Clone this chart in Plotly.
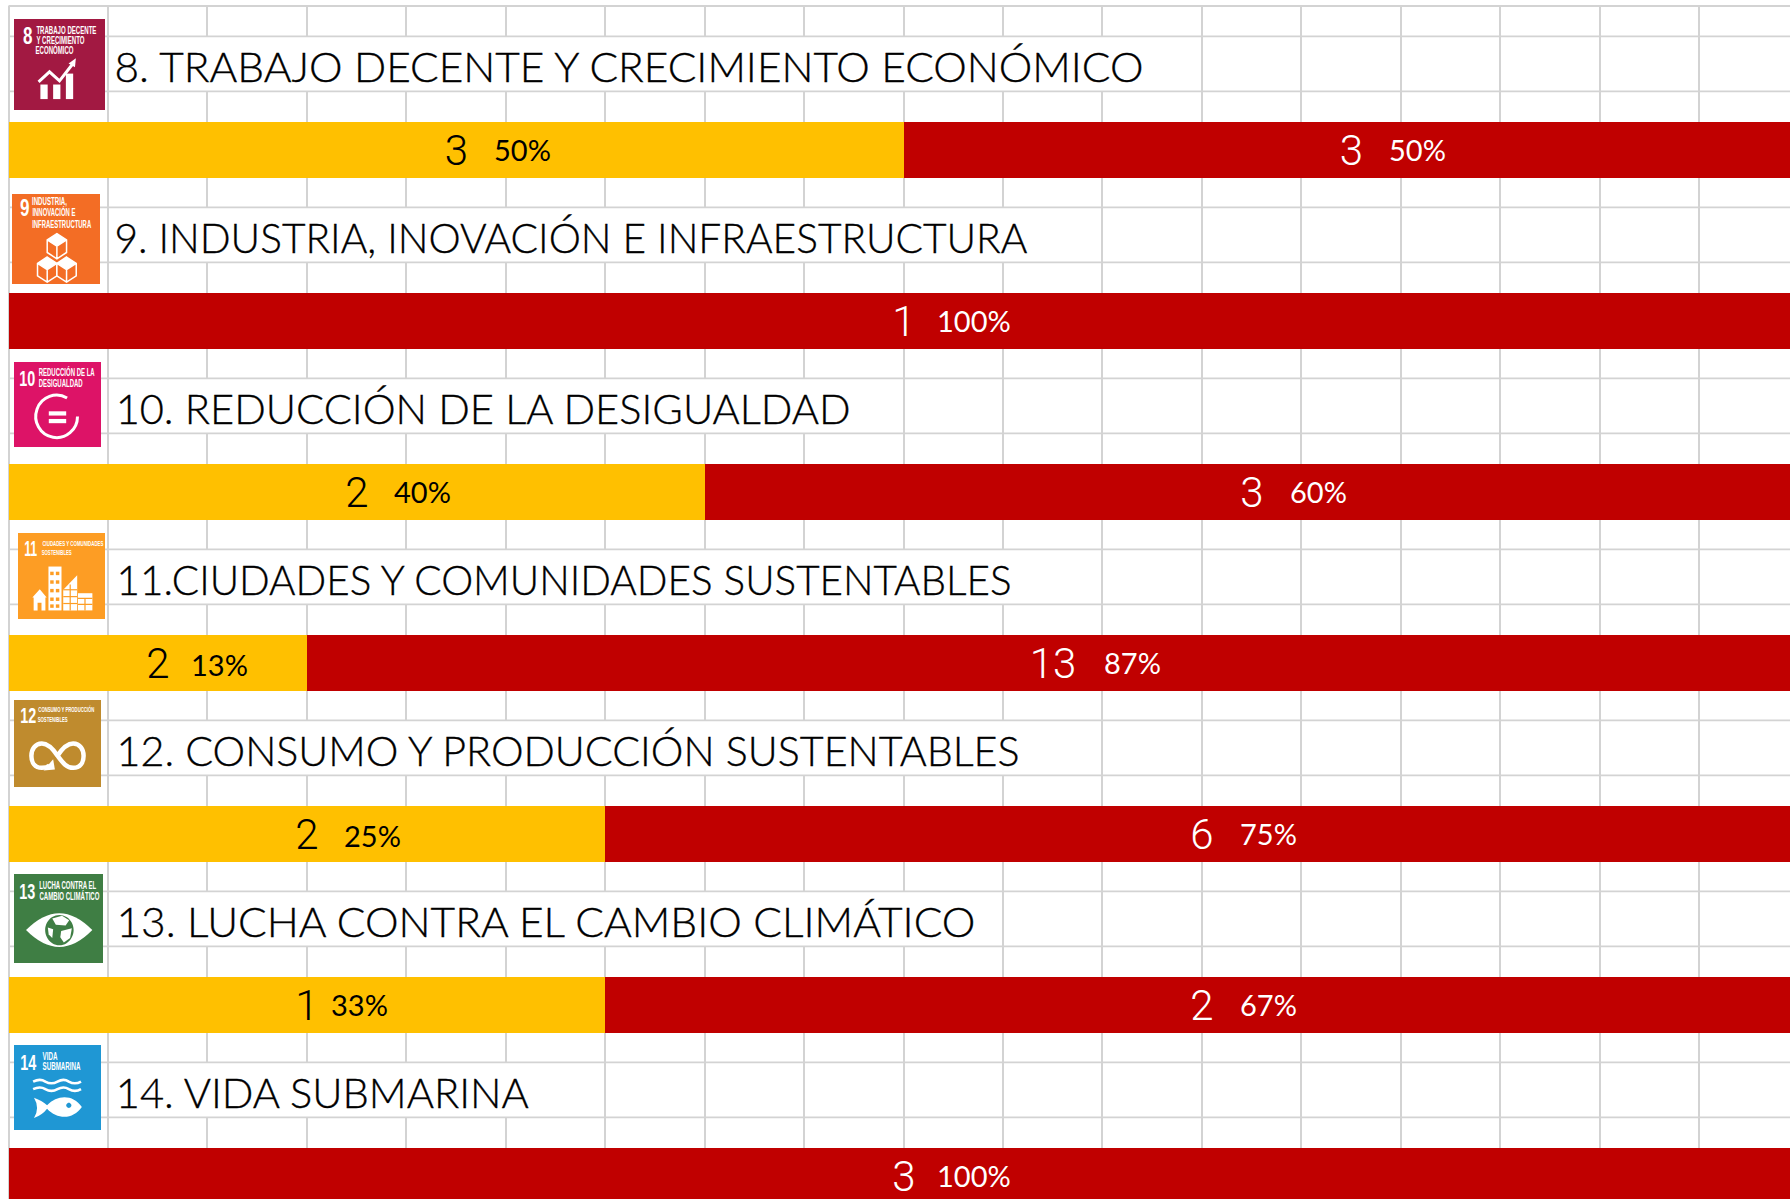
import json
import math
import plotly.graph_objects as go

W, H = 1790, 1199

# ---- data ----
categories = ["8", "9", "10", "11", "12", "13", "14"]
titles = [
    "8. TRABAJO DECENTE Y CRECIMIENTO ECONÓMICO",
    "9. INDUSTRIA, INOVACIÓN E INFRAESTRUCTURA",
    "10. REDUCCIÓN DE LA DESIGUALDAD",
    "11.CIUDADES Y COMUNIDADES SUSTENTABLES",
    "12. CONSUMO Y PRODUCCIÓN SUSTENTABLES",
    "13. LUCHA CONTRA EL CAMBIO CLIMÁTICO",
    "14. VIDA SUBMARINA",
]
yellow_count = [3, 0, 2, 2, 2, 1, 0]
red_count = [3, 1, 3, 13, 6, 2, 3]
yellow_pct = [50, None, 40, 13, 25, 33, None]
red_pct = [50, 100, 60, 87, 75, 67, 100]
# drawn width of the yellow segment (the bars in the picture follow sheet cells)
yellow_width = [50, 0, 38.9, 16.7, 33.3, 33.3, 0]
red_width = [100 - v for v in yellow_width]

# ---- styling / layout ----
YELLOW, RED = "#FFC000", "#C00000"
GRID = "#D3D3D3"
GW = 1.8
FONT_THIN = "Lato Light, Lato, sans-serif"
FONT_COUNT = "Roboto, sans-serif"
FONT_PCT = "Lato, sans-serif"
FONT_ICON = "Liberation Sans, sans-serif"
CELLS = 18
cell = 100 / CELLS
merge_end = [12, 11, 9, 11, 11, 10, 6]
title_left = [114, 114, 116, 116, 116, 116, 116]
title_width = [1029, 913, 735, 895, 903, 859, 413]
gap_yellow = [36, 0, 35, 31, 35, 22, 0]
gap_red = [36, 31, 36, 49, 36, 36, 31]
pct_shift_yellow = [0, 0, 0, -2, -2, 0, 0]

PITCH, C0 = 171.0, 149.6
PX_L, PX_SCALE = 8.5, 17.9
xrange_ = [(0 - PX_L) / PX_SCALE, (W - PX_L) / PX_SCALE]
yrange_ = [(H - C0) / PITCH, (6 - C0) / PITCH]
squeeze = {}


def px(x, y):
    return x / W, 1 - y / H


count_font = dict(family=FONT_COUNT, size=42, weight=300)
fig = go.Figure()
fig.add_bar(
    y=categories, x=yellow_width, orientation="h", marker=dict(color=YELLOW, line_width=0),
    text=[str(v) if v else "" for v in yellow_count], textposition="inside",
    insidetextanchor="middle", textangle=0, constraintext="none",
    textfont=dict(color="black", **count_font), width=56 / PITCH, showlegend=False,
)
fig.add_bar(
    y=categories, x=red_width, orientation="h", marker=dict(color=RED, line_width=0),
    text=[str(v) for v in red_count], textposition="inside",
    insidetextanchor="middle", textangle=0, constraintext="none",
    textfont=dict(color="white", **count_font), width=56 / PITCH, showlegend=False,
)

shapes = []
annotations = []

# sheet grid: horizontal rules, merged title cells
shapes.append(dict(type="line", xref="paper", yref="paper", x0=PX_L / W, x1=1, y0=1 - 6 / H, y1=1 - 6 / H,
                   line=dict(color=GRID, width=GW), layer="between"))
for i, end in enumerate(merge_end):
    y0 = i - 113.3 / PITCH
    y1 = i - 58.3 / PITCH
    shapes.append(dict(type="rect", xref="x", yref="y", x0=cell + 0.08, x1=end * cell - 0.08, y0=y0, y1=y1,
                       fillcolor="white", line_width=0, layer="between"))
    for yy in (y0, y1):
        shapes.append(dict(type="line", xref="x", yref="y", x0=0, x1=100, y0=yy, y1=yy,
                           line=dict(color=GRID, width=GW), layer="between"))

# row titles and percentage labels
for i, c in enumerate(categories):
    squeeze[titles[i]] = title_width[i]
    annotations.append(dict(xref="paper", yref="y", x=(title_left[i] + title_width[i] / 2) / W, y=i, yshift=84,
                            text=titles[i], xanchor="center", yanchor="middle", showarrow=False,
                            font=dict(family=FONT_THIN, size=42, color="black")))
    if yellow_pct[i] is not None:
        annotations.append(dict(xref="x", yref="y", x=yellow_width[i] / 2, y=i, xshift=gap_yellow[i],
                                yshift=pct_shift_yellow[i],
                                text=f"{yellow_pct[i]}%", xanchor="left", yanchor="middle", showarrow=False,
                                font=dict(family=FONT_PCT, size=29, color="black")))
    annotations.append(dict(xref="x", yref="y", x=yellow_width[i] + red_width[i] / 2, y=i, xshift=gap_red[i],
                            text=f"{red_pct[i]}%", xanchor="left", yanchor="middle", showarrow=False,
                            font=dict(family=FONT_PCT, size=29, color="white")))


# ---- SDG icons: square, number, caption, white pictogram ----
def path_in(box, pts_cmd):
    x0, y0, x1, y1 = box
    out = []
    for tok in pts_cmd:
        if isinstance(tok, str):
            out.append(tok)
        else:
            u, v = tok
            a, b = px(x0 + u * (x1 - x0), y0 + v * (y1 - y0))
            out.append(f"{a:.5f},{b:.5f}")
    return " ".join(out)


def glyph(box, cmd, fill="white", stroke=None, width=0):
    shapes.append(dict(type="path", xref="paper", yref="paper", path=path_in(box, cmd),
                       fillcolor=fill if fill else "rgba(0,0,0,0)",
                       line=dict(color=stroke if stroke else "rgba(0,0,0,0)", width=width), layer="above"))


def arc(cu, cv, ru, rv, a0, a1, segs=6):
    """Cubic approximation of an elliptical arc, angles in degrees."""
    cmd = ["M", (cu + ru * math.cos(math.radians(a0)), cv + rv * math.sin(math.radians(a0)))]
    step = math.radians(a1 - a0) / segs
    k = 4 / 3 * math.tan(step / 4)
    t = math.radians(a0)
    for _ in range(segs):
        t2 = t + step
        cmd += ["C", (cu + ru * (math.cos(t) - k * math.sin(t)), cv + rv * (math.sin(t) + k * math.cos(t))),
                (cu + ru * (math.cos(t2) + k * math.sin(t2)), cv + rv * (math.sin(t2) - k * math.cos(t2))),
                (cu + ru * math.cos(t2), cv + rv * math.sin(t2))]
        t = t2
    return cmd


def label(x, y, text, size, width, anchor_left=True):
    squeeze[text] = width
    cx = x + width / 2 if anchor_left else x
    a, b = px(cx, y)
    annotations.append(dict(xref="paper", yref="paper", x=a, y=b, text=text,
                            xanchor="center", yanchor="middle", showarrow=False,
                            font=dict(family=FONT_ICON, size=size, color="white", weight=700)))


icons = [
    dict(box=(14, 19, 105, 110), color="#A21942", num=(27, 35), numsize=24, numw=9.5, tx=36,
         lines=[("TRABAJO DECENTE", 30, 60), ("Y CRECIMIENTO", 40, 48), ("ECONÓMICO", 50, 38)], ts=11),
    dict(box=(12, 194, 100, 284), color="#F36D25", num=(24, 207), numsize=24, numw=9.5, tx=32,
         lines=[("INDUSTRIA,", 201, 35), ("INNOVACIÓN E", 212, 43), ("INFRAESTRUCTURA", 224, 59)], ts=11),
    dict(box=(14, 362, 101, 447), color="#DD1367", num=(27, 378), numsize=22, numw=16, tx=38.5,
         lines=[("REDUCCIÓN DE LA", 372, 56), ("DESIGUALDAD", 383, 44)], ts=10),
    dict(box=(18, 533, 105, 619), color="#FD9D24", num=(30, 549), numsize=22, numw=13, tx=42,
         lines=[("CIUDADES Y COMUNIDADES", 543, 61), ("SOSTENIBLES", 552, 30)], ts=7),
    dict(box=(14, 700, 101, 787), color="#BF8B2E", num=(28, 716), numsize=22, numw=16, tx=38,
         lines=[("CONSUMO Y PRODUCCIÓN", 709, 56), ("SOSTENIBLES", 719, 30)], ts=7),
    dict(box=(14, 874, 103, 963), color="#3F7E44", num=(27, 891), numsize=22, numw=16, tx=39,
         lines=[("LUCHA CONTRA EL", 885, 57), ("CAMBIO CLIMÁTICO", 896, 60)], ts=10),
    dict(box=(14, 1045, 101, 1130), color="#1F97D4", num=(28, 1062), numsize=22, numw=16, tx=42,
         lines=[("VIDA", 1056, 15), ("SUBMARINA", 1066, 38)], ts=10),
]

for c, ic in zip(categories, icons):
    x0, y0, x1, y1 = ic["box"]
    a0, b0 = px(x0, y1)
    a1, b1 = px(x1, y0)
    shapes.append(dict(type="rect", xref="paper", yref="paper", x0=a0, x1=a1, y0=b0, y1=b1,
                       fillcolor=ic["color"], line_width=0, layer="above"))
    label(ic["num"][0], ic["num"][1], c, ic["numsize"], ic["numw"], anchor_left=False)
    for t, yy, w in ic["lines"]:
        label(ic["tx"], yy, t, ic["ts"], w)

# 8: rising bars and arrow
b = icons[0]["box"]
for u0, u1, vt in [(0.29, 0.37, 0.72), (0.43, 0.51, 0.72), (0.57, 0.65, 0.60)]:
    glyph(b, ["M", (u0, vt), "L", (u1, vt), "L", (u1, 0.88), "L", (u0, 0.88), "Z"])
glyph(b, ["M", (0.27, 0.69), "L", (0.39, 0.58), "L", (0.50, 0.68), "L", (0.64, 0.50)], fill=None, stroke="white", width=3)
glyph(b, ["M", (0.60, 0.49), "L", (0.68, 0.43), "L", (0.67, 0.53), "Z"])

# 9: three cubes
b = icons[1]["box"]
for n, (cu, cv) in enumerate([(0.40, 0.84), (0.62, 0.84), (0.51, 0.58)]):
    r, h = 0.11, 0.07
    glyph(b, ["M", (cu, cv - 2 * h), "L", (cu + r, cv - h), "L", (cu + r, cv + h), "L", (cu, cv + 2 * h),
              "L", (cu - r, cv + h), "L", (cu - r, cv - h), "Z",
              "M", (cu - r, cv - h), "L", (cu, cv), "L", (cu + r, cv - h), "M", (cu, cv), "L", (cu, cv + 2 * h)],
          fill=icons[1]["color"], stroke="white", width=1.5)
    glyph(b, ["M", (cu, cv - 2 * h), "L", (cu + r, cv - h), "L", (cu, cv), "L", (cu - r, cv - h), "Z"])

# 10: ring with equals sign
b = icons[2]["box"]
glyph(b, arc(0.49, 0.64, 0.24, 0.25, -60, -360), fill=None, stroke="white", width=3)
for v0 in (0.58, 0.67):
    glyph(b, ["M", (0.40, v0), "L", (0.60, v0), "L", (0.60, v0 + 0.05), "L", (0.40, v0 + 0.05), "Z"])

# 11: house and buildings
b = icons[3]["box"]
glyph(b, ["M", (0.18, 0.90), "L", (0.18, 0.75), "L", (0.165, 0.75), "L", (0.25, 0.655), "L", (0.33, 0.75), "L", (0.315, 0.75),
          "L", (0.315, 0.90), "L", (0.27, 0.90), "L", (0.27, 0.81), "L", (0.225, 0.81), "L", (0.225, 0.90), "Z"])
glyph(b, ["M", (0.35, 0.39), "L", (0.50, 0.39), "L", (0.50, 0.90), "L", (0.35, 0.90), "Z"])
glyph(b, ["M", (0.52, 0.66), "L", (0.68, 0.49), "L", (0.68, 0.90), "L", (0.52, 0.90), "Z"])
glyph(b, ["M", (0.69, 0.70), "L", (0.855, 0.70), "L", (0.855, 0.90), "L", (0.69, 0.90), "Z"])
for uu in (0.385, 0.45):
    for vv in (0.45, 0.55, 0.65, 0.75, 0.83):
        glyph(b, ["M", (uu - 0.015, vv), "L", (uu + 0.025, vv), "L", (uu + 0.025, vv + 0.04), "L", (uu - 0.015, vv + 0.04), "Z"],
              fill=icons[3]["color"])
for vv in (0.66, 0.74, 0.82):
    glyph(b, ["M", (0.52, vv), "L", (0.68, vv)], fill=None, stroke=icons[3]["color"], width=1.2)
glyph(b, ["M", (0.60, 0.60), "L", (0.60, 0.90)], fill=None, stroke=icons[3]["color"], width=1.2)
glyph(b, ["M", (0.69, 0.76), "L", (0.855, 0.76), "M", (0.69, 0.83), "L", (0.855, 0.83), "M", (0.77, 0.76), "L", (0.77, 0.90)],
      fill=None, stroke=icons[3]["color"], width=1.2)

# 12: infinity loop with arrow
b = icons[4]["box"]
glyph(b, ["M", (0.50, 0.64), "C", (0.56, 0.55), (0.61, 0.50), (0.68, 0.50), "C", (0.76, 0.50), (0.80, 0.57), (0.80, 0.64),
          "C", (0.80, 0.72), (0.76, 0.78), (0.68, 0.78), "C", (0.60, 0.78), (0.56, 0.72), (0.50, 0.64),
          "C", (0.44, 0.55), (0.39, 0.50), (0.32, 0.50), "C", (0.24, 0.50), (0.20, 0.57), (0.20, 0.64),
          "C", (0.20, 0.72), (0.24, 0.78), (0.32, 0.78), "C", (0.36, 0.78), (0.39, 0.77), (0.41, 0.75)],
      fill=None, stroke="white", width=4.5)
glyph(b, ["M", (0.34, 0.81), "L", (0.47, 0.80), "L", (0.45, 0.68), "Z"])

# 13: eye with globe
b = icons[5]["box"]
glyph(b, ["M", (0.135, 0.63), "Q", (0.51, 0.25), (0.88, 0.63), "Q", (0.51, 1.01), (0.135, 0.63), "Z"])
glyph(b, arc(0.51, 0.63, 0.16, 0.17, 0, 360), fill=icons[5]["color"])
glyph(b, ["M", (0.43, 0.50), "L", (0.54, 0.47), "L", (0.62, 0.52), "L", (0.58, 0.58), "L", (0.47, 0.57), "Z"], fill="white")
glyph(b, ["M", (0.53, 0.64), "L", (0.65, 0.61), "L", (0.63, 0.72), "L", (0.56, 0.77), "L", (0.52, 0.71), "Z"], fill="white")
glyph(b, ["M", (0.38, 0.60), "L", (0.44, 0.62), "L", (0.43, 0.72), "L", (0.39, 0.68), "Z"], fill="white")

# 14: waves and fish
b = icons[6]["box"]
for v in (0.43, 0.52):
    glyph(b, ["M", (0.22, v), "Q", (0.30, v - 0.04), (0.36, v), "Q", (0.43, v + 0.04), (0.50, v),
              "Q", (0.57, v - 0.04), (0.63, v), "Q", (0.70, v + 0.04), (0.77, v)], fill=None, stroke="white", width=2.6)
glyph(b, ["M", (0.23, 0.62), "Q", (0.33, 0.66), (0.38, 0.71), "C", (0.50, 0.58), (0.68, 0.58), (0.78, 0.73),
          "C", (0.68, 0.88), (0.50, 0.88), (0.38, 0.75), "Q", (0.33, 0.82), (0.23, 0.86), "Q", (0.30, 0.74), (0.23, 0.62), "Z"])
glyph(b, arc(0.63, 0.71, 0.03, 0.03, 0, 360), fill=icons[6]["color"])

fig.update_layout(
    width=W, height=H, autosize=False, barmode="stack", bargap=0,
    margin=dict(l=0, r=0, t=0, b=0), paper_bgcolor="white", plot_bgcolor="white",
    xaxis=dict(range=xrange_, showgrid=True, gridcolor=GRID, gridwidth=GW, tick0=0, dtick=cell,
               showticklabels=False, ticks="", zeroline=False, showline=False, fixedrange=True),
    yaxis=dict(domain=[0, 1 - 6 / H], range=yrange_, type="category", categoryorder="array",
               categoryarray=categories, showgrid=False, showticklabels=False, ticks="",
               zeroline=False, showline=False, fixedrange=True),
    shapes=shapes, annotations=annotations, showlegend=False,
)

# page without margin; captions and titles fitted to the widths measured in the picture
post = """
document.body.style.margin = '0';
var fitWidths = %s;
var titleSet = %s;
function fitTexts() {
  document.querySelectorAll('text.annotation-text').forEach(function (el) {
    var t = el.textContent;
    if (fitWidths[t] !== undefined) {
      el.setAttribute('textLength', fitWidths[t]);
      el.setAttribute('lengthAdjust', 'spacingAndGlyphs');
    }
    if (titleSet.indexOf(t) >= 0) {
      el.style.stroke = 'black';
      el.style.strokeWidth = '0.35px';
    }
  });
}
fitTexts();
setTimeout(fitTexts, 50);
setTimeout(fitTexts, 300);
""" % (json.dumps(squeeze, ensure_ascii=False), json.dumps(titles, ensure_ascii=False))

fig.write_html("out.html", config=dict(displayModeBar=False), default_width=W, default_height=H, post_script=post)
